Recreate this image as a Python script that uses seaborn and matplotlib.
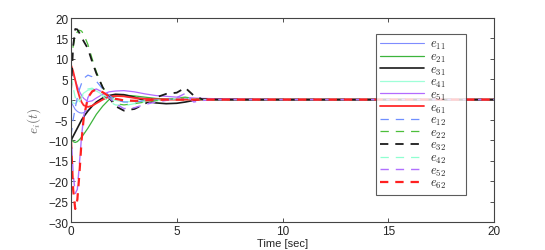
import numpy as np
import pandas as pd
import matplotlib
matplotlib.use("Agg")
import matplotlib.pyplot as plt
import seaborn as sns

# time samples (sec)
t = [0, 0.1, 0.2, 0.3, 0.4, 0.5, 0.6, 0.8, 1.0, 1.2, 1.5, 1.8, 2.1, 2.5,
     3.0, 3.5, 4.0, 4.5, 5.0, 5.4, 5.8, 6.2, 7, 8, 10, 20]

# solid curves
e11 = [-0.5, -1.5, -2.4, -2.9, -3.2, -3.3, -3.2, -2.6, -1.6, -0.6, 0.4, 0.9, 1.0, 0.8,
       0.5, 0.3, 0.2, 0.1, 0.1, 0.05, 0, 0, 0, 0, 0, 0]
e21 = [-9.5, -10.3, -10.5, -10.3, -9.8, -9.2, -8.5, -7.0, -5.3, -3.6, -1.6, 0.0, 0.8, 1.1,
       0.9, 0.6, 0.3, 0.1, 0, 0, 0, 0, 0, 0, 0, 0]
e31 = [-10, -9.0, -8.0, -7.0, -6.0, -5.0, -4.2, -2.8, -1.6, -0.6, 0.4, 1.0, 1.3, 1.2,
       0.6, -0.3, -0.8, -1.0, -0.9, -0.6, -0.2, 0.1, 0.1, 0, 0, 0]
e41 = [0, -0.8, -1.0, -0.5, 0.3, 1.0, 1.6, 2.3, 2.5, 2.1, 1.2, 0.4, -0.2, -0.5,
       -0.5, -0.3, -0.1, 0, 0.1, 0.4, 0.1, 0, 0, 0, 0, 0]
e51 = [8.0, 6.5, 4.8, 3.3, 2.0, 1.0, 0.3, -0.5, -0.3, 0.4, 1.3, 1.9, 2.1, 2.2,
       1.9, 1.4, 1.0, 0.8, 0.6, 0.5, 0.4, 0.3, 0.2, 0.1, 0, 0]
e61 = [8.5, 7.0, 4.8, 2.5, 0.7, -0.6, -1.4, -1.8, -1.5, -0.9, 0.0, 0.7, 0.9, 0.8,
       0.4, 0.2, 0.1, 0, 0, 0, 0, 0, 0, 0, 0, 0]

# dashed curves
e12 = [-9, -5, -2, 0.5, 2.5, 4.0, 5.2, 6.0, 5.6, 4.5, 2.6, 1.0, 0, -0.6,
       -0.6, -0.3, -0.1, 0, 0.2, 0.5, 0.2, 0, 0, 0, 0, 0]
e22 = [9, 13, 15.5, 16.6, 17.0, 16.8, 16.0, 13.5, 10.0, 6.8, 3.0, 0.6, -1.0, -1.3,
       -1.0, -0.6, -0.3, 0, 0.3, 0.6, 0.3, 0, 0, 0, 0, 0]
e32 = [2, 13, 17.3, 17.2, 16.3, 15.3, 14.3, 12.5, 9.3, 6.4, 3.0, 0.5, -1.6, -2.7,
       -2.3, -1.0, 0.5, 1.4, 1.7, 2.9, 1.0, 0.1, 0, 0, 0, 0]
e42 = [6, 3, 0.5, -0.8, -0.5, 0.5, 1.5, 2.6, 2.8, 2.2, 0.8, -0.5, -1.3, -1.5,
       -1.0, -0.5, -0.2, 0, 0.2, 0.3, 0.1, 0, 0, 0, 0, 0]
e52 = [-8, -18, -23, -22, -15.5, -9.0, -4.0, 0.5, 2.2, 2.6, 1.8, 0.5, -1.0, -2.2,
       -2.0, -1.2, -0.6, -0.2, 0.5, 1.5, -0.6, -0.2, 0, 0, 0, 0]
e62 = [-10, -22, -26.8, -24.5, -18.0, -10.0, -4.5, 0.5, 2.0, 2.5, 1.8, 0.8, 0.2, -0.2,
       -0.3, -0.2, -0.1, 0, 0, 0, 0, 0, 0, 0, 0, 0]

dash = (0, (6, 5))
series = [
    ("$e_{11}$", e11, "#7f8cff", "-", 0.8),
    ("$e_{21}$", e21, "#3cb43c", "-", 0.9),
    ("$e_{31}$", e31, "#1a1a1a", "-", 1.2),
    ("$e_{41}$", e41, "#9fffd8", "-", 0.9),
    ("$e_{51}$", e51, "#b36bff", "-", 0.9),
    ("$e_{61}$", e61, "#ff2a2a", "-", 1.3),
    ("$e_{12}$", e12, "#6f8fff", dash, 0.9),
    ("$e_{22}$", e22, "#4cbf3a", dash, 0.9),
    ("$e_{32}$", e32, "#1a1a1a", dash, 1.3),
    ("$e_{42}$", e42, "#8fffd0", dash, 0.9),
    ("$e_{52}$", e52, "#b070ff", dash, 1.0),
    ("$e_{62}$", e62, "#ff2020", dash, 1.6),
]

sns.set_style("ticks")
plt.rcParams["font.family"] = ["Liberation Sans", "DejaVu Sans"]
plt.rcParams["mathtext.fontset"] = "cm"
plt.rcParams["lines.scale_dashes"] = False

fig = plt.figure(figsize=(5.45, 2.51), dpi=100)
ax = fig.add_axes([71 / 545, 1 - 223 / 251, 423 / 545, 204 / 251])

for name, vals, col, ls, lw in series:
    sns.lineplot(x=t, y=vals, ax=ax, color=col, linestyle=ls, linewidth=lw,
                 label=name, estimator=None, sort=False)

ax.set_xlim(0, 20)
ax.set_ylim(-30, 20)
ax.set_xticks([0, 5, 10, 15, 20])
ax.set_yticks(range(-30, 21, 5))
ax.tick_params(direction="in", top=True, right=True, labelsize=8.5,
               length=3, width=0.6, color="#333333", pad=2)
for s in ax.spines.values():
    s.set_linewidth(0.8)
    s.set_color("#444444")
    s.set_visible(True)

ax.set_xlabel("Time [sec]", fontsize=8, labelpad=1)
ax.set_ylabel("$e_i(t)$", fontsize=9.5, color="#666666", labelpad=4)

leg = ax.legend(loc="upper left", bbox_to_anchor=(0.721, 0.0, 90 / 423, 0.922),
                mode="expand", fontsize=9,
                frameon=True, fancybox=False, edgecolor="#333333",
                handlelength=3.5, labelspacing=-0.04, borderpad=0.35,
                handletextpad=0.5, borderaxespad=0)
leg.get_frame().set_linewidth(0.8)

fig.savefig("out.png", dpi=100)
